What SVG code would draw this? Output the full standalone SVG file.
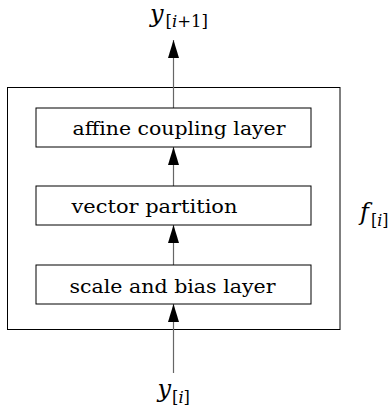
<svg xmlns="http://www.w3.org/2000/svg" width="390" height="410" viewBox="0 0 390 410">
<style>
.box{fill:#fff;stroke:#000;stroke-width:1}
.lbl{font-size:19px;fill:#000}
.m{font-style:italic;font-size:24px;fill:#000}
.s{font-size:17px;fill:#000}
.si{font-style:italic}
.con{stroke:#666;stroke-width:1.2;fill:none;marker-end:url(#ah)}
</style>
<defs>
<marker id="ah" markerUnits="userSpaceOnUse" markerWidth="18" markerHeight="12" refX="18" refY="6" orient="auto">
<path d="M0,0.5 L18,6 L0,11.5 z" fill="#000"/>
</marker>
</defs>
<g id="outer">
<rect class="box" x="7.5" y="87.5" width="332.5" height="242" fill="none"/>
</g>
<g id="connectors">
<line class="con" x1="173.5" y1="373" x2="173.5" y2="304"/>
<line class="con" x1="173.5" y1="265" x2="173.5" y2="225"/>
<line class="con" x1="173.5" y1="186" x2="173.5" y2="147"/>
<line class="con" x1="173.5" y1="108" x2="173.5" y2="40"/>
</g>
<g font-family="'DejaVu Serif', 'Liberation Serif', serif">
<g id="affine">
<rect class="box" x="36" y="108" width="275" height="39"/>
<text class="lbl" x="72.5" y="135" textLength="213" lengthAdjust="spacingAndGlyphs">affine coupling layer</text>
</g>
<g id="partition">
<rect class="box" x="36" y="186" width="275" height="39"/>
<text class="lbl" x="71.5" y="213" textLength="166" lengthAdjust="spacingAndGlyphs">vector partition</text>
</g>
<g id="scale">
<rect class="box" x="36" y="265" width="275" height="39"/>
<text class="lbl" x="69.5" y="293" textLength="206" lengthAdjust="spacingAndGlyphs">scale and bias layer</text>
</g>
<g id="y_out">
<text class="m" x="150" y="22">y</text>
<text class="s" x="165.5" y="27" textLength="42.5" lengthAdjust="spacingAndGlyphs">[<tspan class="si">i</tspan>+1]</text>
</g>
<g id="y_in">
<text class="m" x="157.5" y="397">y</text>
<text class="s" x="172" y="403" textLength="18" lengthAdjust="spacingAndGlyphs">[<tspan class="si">i</tspan>]</text>
</g>
<g id="f_label">
<text class="m" x="360" y="220">f</text>
<text class="s" x="371" y="226" textLength="17.5" lengthAdjust="spacingAndGlyphs">[<tspan class="si">i</tspan>]</text>
</g>
</g>
</svg>
